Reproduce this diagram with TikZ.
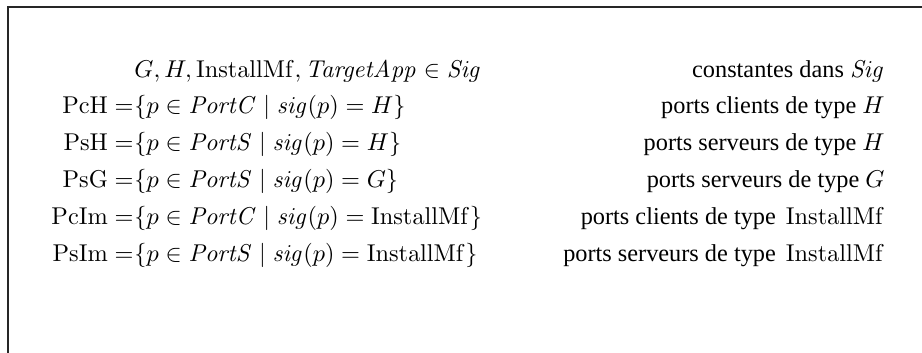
\documentclass[tikz,border=0pt]{standalone}
\usepackage[no-math]{fontspec}
\setmainfont{Liberation Serif}
\begin{document}
\begin{tikzpicture}[x=0.4115pt, y=-0.4115pt,
  lhs/.style={inner sep=0pt, anchor=base east},
  rhs/.style={inner sep=0pt, anchor=base west},
  note/.style={inner sep=0pt, anchor=base east},
  frame/.style={line width=0.6pt, draw=black!85}]
\useasboundingbox (0,0) rectangle (922,352);
\draw[frame] (8,7) rectangle (960,400);
\def\E{134}
\def\R{885}
% row 1
\node[rhs] (r1) at (\E,77) {$G, H, \mathrm{InstallMf}, \mathit{TargetApp} \in \mathit{Sig}$};
\node[note] (n1) at (\R,77) {constantes dans $\mathit{Sig}$};
% row 2
\node[lhs] (l2) at (\E,113.8) {$\mathrm{PcH} =$};
\node[rhs] (r2) at (\E,113.8) {$\{p \in \mathit{PortC} \mid \mathit{sig}(p) = H\}$};
\node[note] (n2) at (\R,113.8) {ports clients de type $H$};
% row 3
\node[lhs] (l3) at (\E,150.6) {$\mathrm{PsH} =$};
\node[rhs] (r3) at (\E,150.6) {$\{p \in \mathit{PortS} \mid \mathit{sig}(p) = H\}$};
\node[note] (n3) at (\R,150.6) {ports serveurs de type $H$};
% row 4
\node[lhs] (l4) at (\E,187.4) {$\mathrm{PsG} =$};
\node[rhs] (r4) at (\E,187.4) {$\{p \in \mathit{PortS} \mid \mathit{sig}(p) = G\}$};
\node[note] (n4) at (\R,187.4) {ports serveurs de type $G$};
% row 5
\node[lhs] (l5) at (\E,224.2) {$\mathrm{PcIm} =$};
\node[rhs] (r5) at (\E,224.2) {$\{p \in \mathit{PortC} \mid \mathit{sig}(p) = \mathrm{InstallMf}\}$};
\node[note] (n5) at (\R,224.2) {ports clients de type \,$\mathrm{InstallMf}$};
% row 6
\node[lhs] (l6) at (\E,261) {$\mathrm{PsIm} =$};
\node[rhs] (r6) at (\E,261) {$\{p \in \mathit{PortS} \mid \mathit{sig}(p) = \mathrm{InstallMf}\}$};
\node[note] (n6) at (\R,261) {ports serveurs de type \,$\mathrm{InstallMf}$};
\end{tikzpicture}
\end{document}
